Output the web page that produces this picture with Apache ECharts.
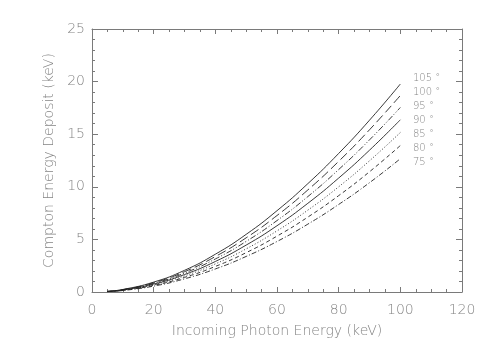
<!DOCTYPE html>
<html lang="en">
<head>
    <meta charset="UTF-8">
    <title>Compton Energy Deposit</title>
    <script type="text/javascript" src="https://cdn.jsdelivr.net/npm/echarts@6/dist/echarts.min.js"></script>
    <style>
        html, body { margin: 0; padding: 0; background: #fff; }
        #chart { width: 491px; height: 351px; }
    </style>
</head>
<body>
<div id="chart"></div>
<script type="text/javascript">
    // incoming photon energy (keV)
    var energy = [5, 10, 20, 30, 40, 50, 60, 70, 80, 90, 100];
    // scattering angles, top curve first
    var angles = [105, 100, 95, 90, 85, 80, 75];
    // deposit (keV)
    var dep105 = [0.06, 0.24, 0.94, 2.06, 3.59, 5.48, 7.73, 10.30, 13.17, 16.33, 19.77];
    var dep100 = [0.06, 0.22, 0.88, 1.93, 3.37, 5.15, 7.27, 9.70, 12.42, 15.42, 18.68];
    var dep95 = [0.05, 0.21, 0.82, 1.80, 3.14, 4.81, 6.79, 9.07, 11.64, 14.46, 17.54];
    var dep90 = [0.05, 0.19, 0.75, 1.66, 2.90, 4.46, 6.30, 8.43, 10.83, 13.48, 16.37];
    var dep85 = [0.04, 0.18, 0.69, 1.53, 2.67, 4.10, 5.81, 7.78, 10.00, 12.47, 15.16];
    var dep80 = [0.04, 0.16, 0.63, 1.39, 2.43, 3.74, 5.31, 7.12, 9.16, 11.43, 13.92];
    var dep75 = [0.04, 0.14, 0.56, 1.25, 2.19, 3.38, 4.80, 6.45, 8.32, 10.39, 12.67];

    var deposits = [dep105, dep100, dep95, dep90, dep85, dep80, dep75];
    // solid, long dash, dash-dot-dot, solid, dotted, dashed, dash-dot
    var dashes = ['solid', [9, 4], [6, 2, 1, 2, 1, 2], 'solid', [1, 2], [4, 3], [5, 2, 1, 2]];

    var grey = '#858585';
    var axisGrey = '#7a7a7a';
    var font = 'DejaVu Sans';

    function pairs(ys) {
        return energy.map(function (e, i) { return [e, ys[i]]; });
    }

    var series = angles.map(function (a, i) {
        return {
            name: a + ' °',
            type: 'line',
            data: pairs(deposits[i]),
            smooth: true,
            showSymbol: false,
            silent: true,
            lineStyle: { color: '#222', width: 0.9, type: dashes[i] }
        };
    });

    var labels = angles.map(function (a, i) {
        return {
            type: 'text',
            left: 413,
            top: 73 + i * 14,
            style: { text: a + ' °', fill: grey, font: '200 10px "' + font + '"' }
        };
    });

    function axisX(pos, show) {
        return {
            type: 'value', position: pos, min: 0, max: 120, interval: 20,
            axisLine: { show: true, onZero: false, lineStyle: { color: axisGrey, width: 1 } },
            axisTick: { show: true, inside: true, length: 5, lineStyle: { color: axisGrey } },
            minorTick: { show: true, splitNumber: 4, length: 3, lineStyle: { color: axisGrey } },
            splitLine: { show: false },
            axisLabel: { show: show, color: grey, fontFamily: font, fontWeight: 200, fontSize: 14, margin: 11 },
            name: show ? 'Incoming Photon Energy (keV)' : '',
            nameLocation: 'middle', nameGap: 32,
            nameTextStyle: { color: grey, fontFamily: font, fontWeight: 200, fontSize: 14 }
        };
    }

    function axisY(pos, show) {
        return {
            type: 'value', position: pos, min: 0, max: 25, interval: 5,
            axisLine: { show: true, onZero: false, lineStyle: { color: axisGrey, width: 1 } },
            axisTick: { show: true, inside: true, length: 6, lineStyle: { color: axisGrey } },
            minorTick: { show: true, splitNumber: 5, length: 3, lineStyle: { color: axisGrey } },
            splitLine: { show: false },
            axisLabel: { show: show, color: grey, fontFamily: font, fontWeight: 200, fontSize: 14, margin: 7 },
            name: show ? 'Compton Energy Deposit (keV)' : '',
            nameLocation: 'middle', nameGap: 35,
            nameTextStyle: { color: grey, fontFamily: font, fontWeight: 200, fontSize: 14 }
        };
    }

    var myChart = echarts.init(document.getElementById('chart'), null, { renderer: 'canvas' });
    var option = {
        animation: false,
        backgroundColor: '#fff',
        grid: { left: 92, right: 29, top: 29, bottom: 59 },
        xAxis: [axisX('bottom', true), axisX('top', false)],
        yAxis: [axisY('left', true), axisY('right', false)],
        graphic: labels,
        series: series
    };
    myChart.setOption(option);
</script>
</body>
</html>
